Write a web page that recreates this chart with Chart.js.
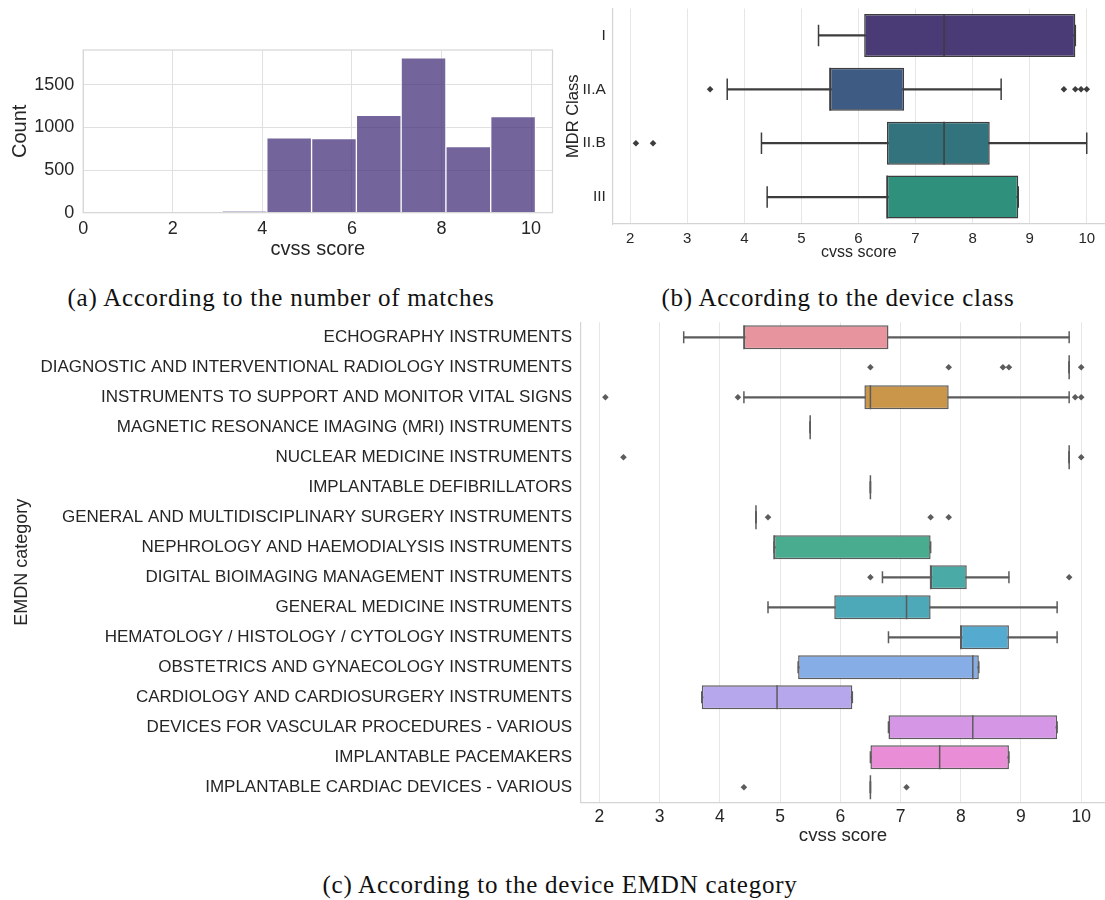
<!DOCTYPE html>
<html>
<head>
<meta charset="utf-8">
<script src="https://cdn.jsdelivr.net/npm/chart.js@4.4.1/dist/chart.umd.min.js"></script>
<style>
  html, body { margin: 0; padding: 0; background: #fff; overflow: hidden; }
  body { width: 1105px; height: 900px; position: relative; }
  canvas { position: absolute; }
  .cap {
    position: absolute;
    font-family: 'Liberation Serif', 'Times New Roman', serif;
    font-size: 25px;
    letter-spacing: 0.75px;
    color: #111;
    white-space: nowrap;
    line-height: 1;
    transform: translate(-50%, -50%);
  }
</style>
</head>
<body>
<canvas id="histChart" width="560" height="240" style="left:0;top:30px"></canvas>
<!-- the two box plots are 4px wider than the page: Chart.js keeps 4px free on the right -->
<canvas id="mdrChart" width="549" height="270" style="left:560px;top:0"></canvas>
<canvas id="emdnChart" width="1109" height="555" style="left:0;top:315px"></canvas>

<div class="cap" style="left:281px;top:297px">(a) According to the number of matches</div>
<div class="cap" style="left:838px;top:297px">(b) According to the device class</div>
<div class="cap" style="left:560px;top:884px">(c) According to the device EMDN category</div>

<script>
// ===== (a) histogram: bin centres (bins are 1 wide) and counts =====
const histBinCenters = [3.6, 4.6, 5.6, 6.6, 7.6, 8.6, 9.6];
const histCounts = [12, 878, 870, 1142, 1817, 774, 1128];
const histXTicks = [0, 2, 4, 6, 8, 10];
const histYTicks = [0, 500, 1000, 1500];

// ===== (b) MDR class boxplots =====
const mdrClasses = ["I", "II.A", "II.B", "III"];
const mdrLow    = [5.3, 3.7, 4.3, 4.4];
const mdrQ1     = [6.1, 5.5, 6.5, 6.5];
const mdrMedian = [7.5, 5.5, 7.5, 6.5];
const mdrQ3     = [9.8, 6.8, 8.3, 8.8];
const mdrHigh   = [9.8, 8.5, 10.0, 8.8];
const mdrOutliers = [[], [3.4, 9.6, 9.8, 9.9, 10.0], [2.1, 2.4], []];
const mdrColors = ["#4a3a76", "#3e5b83", "#33737e", "#2f917b"];

// ===== (c) EMDN category boxplots =====
const emdnCategories = [
  "ECHOGRAPHY INSTRUMENTS",
  "DIAGNOSTIC AND INTERVENTIONAL RADIOLOGY INSTRUMENTS",
  "INSTRUMENTS TO SUPPORT AND MONITOR VITAL SIGNS",
  "MAGNETIC RESONANCE IMAGING (MRI) INSTRUMENTS",
  "NUCLEAR MEDICINE INSTRUMENTS",
  "IMPLANTABLE DEFIBRILLATORS",
  "GENERAL AND MULTIDISCIPLINARY SURGERY INSTRUMENTS",
  "NEPHROLOGY AND HAEMODIALYSIS INSTRUMENTS",
  "DIGITAL BIOIMAGING MANAGEMENT INSTRUMENTS",
  "GENERAL MEDICINE INSTRUMENTS",
  "HEMATOLOGY / HISTOLOGY / CYTOLOGY INSTRUMENTS",
  "OBSTETRICS AND GYNAECOLOGY INSTRUMENTS",
  "CARDIOLOGY AND CARDIOSURGERY INSTRUMENTS",
  "DEVICES FOR VASCULAR PROCEDURES - VARIOUS",
  "IMPLANTABLE PACEMAKERS",
  "IMPLANTABLE CARDIAC DEVICES - VARIOUS",
];
const emdnLow    = [3.4, 9.8, 4.4, 5.5, 9.8, 6.5, 4.6, 4.9, 6.7, 4.8, 6.8, 5.3, 3.7, 6.8, 6.5, 6.5];
const emdnQ1     = [4.4, 9.8, 6.4, 5.5, 9.8, 6.5, 4.6, 4.9, 7.5, 5.9, 8.0, 5.3, 3.7, 6.8, 6.5, 6.5];
const emdnMedian = [4.4, 9.8, 6.5, 5.5, 9.8, 6.5, 4.6, 4.9, 7.5, 7.1, 8.0, 8.2, 4.95, 8.2, 7.65, 6.5];
const emdnQ3     = [6.8, 9.8, 7.8, 5.5, 9.8, 6.5, 4.6, 7.5, 8.1, 7.5, 8.8, 8.3, 6.2, 9.6, 8.8, 6.5];
const emdnHigh   = [9.8, 9.8, 9.8, 5.5, 9.8, 6.5, 4.6, 7.5, 8.8, 9.6, 9.6, 8.3, 6.2, 9.6, 8.8, 6.5];
const emdnOutliers = [
  [], [6.5, 7.8, 8.7, 8.8, 10.0], [2.1, 4.3, 9.9, 10.0], [], [2.4, 10.0], [],
  [4.8, 7.5, 7.8], [], [6.5, 9.8], [], [], [], [], [], [], [4.4, 7.1],
];
const emdnColors = [
  "#e8949f", "#e4977a", "#c9964a", "#a89f45", "#8fa645", "#62ab4d", "#4bad7d", "#4aac8e",
  "#4aaaa5", "#4da9b7", "#55aad0", "#86ade6", "#b6a6ec", "#d596e6", "#e98dd6", "#ea90b5",
];
const scoreTicks = [2, 3, 4, 5, 6, 7, 8, 9, 10];

// ===== common =====
const ink = "#262626";
Chart.defaults.font.family = "'Liberation Sans', Arial, sans-serif";
Chart.defaults.color = ink;

// light frame on all four sides (seaborn whitegrid spines)
const framePlugin = {
  id: "frame",
  afterDatasetsDraw(chart) {
    const { ctx, chartArea: a } = chart;
    ctx.save();
    ctx.strokeStyle = "#d6d6d6";
    ctx.lineWidth = 1.2;
    ctx.strokeRect(a.left, a.top, a.right - a.left, a.bottom - a.top);
    ctx.restore();
  },
};

function onlyTicks(list) {
  return (scale) => {
    scale.ticks = list.map((v) => ({ value: v }));
  };
}

// fixed axis size, and no extra room for half-labels at the ends
function fixSize(key, px) {
  return (s) => {
    s[key] = px;
    s.paddingTop = s.paddingBottom = s.paddingLeft = s.paddingRight = 0;
  };
}

const plain = (v) => String(v);

// ===== (a) =====
new Chart(document.getElementById("histChart"), {
  type: "bar",
  data: {
    datasets: [
      {
        data: histBinCenters.map((x, i) => ({ x, y: histCounts[i] })),
        backgroundColor: "rgba(68,48,122,0.75)",
        borderColor: "rgba(255,255,255,0.8)",
        borderWidth: 1,
        barPercentage: 1,
        categoryPercentage: 1,
      },
    ],
  },
  options: {
    responsive: false,
    animation: false,
    events: [],
    layout: { padding: { left: 4.6, top: 20, right: 7.5, bottom: 4.6 } },
    plugins: { legend: { display: false }, tooltip: { enabled: false } },
    scales: {
      x: {
        type: "linear",
        min: 0,
        max: 10.48,
        offset: false,
        grid: { color: "#e0e0e0", drawTicks: false, offset: false },
        border: { display: false },
        afterBuildTicks: onlyTicks(histXTicks),
        ticks: { padding: 5.8, font: { size: 18 }, callback: plain },
        title: { display: true, text: "cvss score", font: { size: 20 } },
        afterFit: fixSize("height", 52.7),
      },
      y: {
        min: 0,
        max: 1908,
        grid: { color: "#e0e0e0", drawTicks: false },
        border: { display: false },
        afterBuildTicks: onlyTicks(histYTicks),
        ticks: { padding: 9, font: { size: 18 }, callback: plain },
        title: { display: true, text: "Count", font: { size: 20 } },
        afterFit: fixSize("width", 78.6),
      },
    },
  },
  plugins: [framePlugin],
});

// ===== boxplot datasets built from the named arrays =====
function boxDatasets(cats, low, q1, med, q3, high, outliers, colors, line) {
  const halfBox = (ctx) => {
    const s = ctx.chart.scales.y;
    return (s.height / cats.length) * 0.4;
  };
  const caps = [];
  cats.forEach((c, i) => {
    caps.push({ x: low[i], y: c });
    caps.push({ x: high[i], y: c });
  });
  const outs = [];
  cats.forEach((c, i) => outliers[i].forEach((v) => outs.push({ x: v, y: c })));
  return [
    {
      // whiskers
      type: "bar",
      data: cats.map((c, i) => [low[i], high[i]]),
      backgroundColor: line,
      barThickness: 1.5,
      grouped: false,
      order: 4,
    },
    {
      // boxes (Q1..Q3)
      type: "bar",
      data: cats.map((c, i) => [q1[i], q3[i]]),
      backgroundColor: colors,
      borderColor: line,
      borderWidth: 1.5,
      borderSkipped: false,
      barPercentage: 0.8,
      categoryPercentage: 1,
      grouped: false,
      order: 3,
    },
    {
      // whisker caps
      type: "scatter",
      data: caps,
      pointStyle: "line",
      pointRotation: 90,
      pointRadius: (ctx) => halfBox(ctx) / 2,
      pointBorderColor: line,
      pointBorderWidth: 1.5,
      order: 2,
    },
    {
      // medians
      type: "scatter",
      data: cats.map((c, i) => ({ x: med[i], y: c })),
      pointStyle: "line",
      pointRotation: 90,
      pointRadius: halfBox,
      pointBorderColor: line,
      pointBorderWidth: 1.5,
      order: 2,
    },
    {
      // outliers
      type: "scatter",
      data: outs,
      pointStyle: "rectRot",
      pointRadius: 3.3,
      pointBackgroundColor: line,
      pointBorderWidth: 0,
      order: 1,
    },
  ];
}

function boxOptions(o) {
  return {
    responsive: false,
    animation: false,
    events: [],
    indexAxis: "y",
    layout: { padding: o.padding },
    plugins: { legend: { display: false }, tooltip: { enabled: false } },
    scales: {
      x: {
        type: "linear",
        min: 1.695,
        max: o.xMax,
        grid: { color: "#e6e6e6", drawTicks: false },
        border: { color: "#d4d4d4", width: 1.2 },
        afterBuildTicks: onlyTicks(scoreTicks),
        ticks: { padding: o.xPad, font: { size: o.tickSize } },
        title: { display: true, text: "cvss score", font: { size: o.xTitleSize } },
        afterFit: fixSize("height", o.xHeight),
      },
      y: {
        type: "category",
        offset: true,
        grid: { display: false, drawTicks: false, offset: true },
        border: { color: "#d4d4d4", width: 1.2 },
        ticks: { padding: o.yPad, autoSkip: false, font: { size: o.yTickSize } },
        title: { display: true, text: o.yTitle, font: { size: o.yTitleSize } },
        afterFit: fixSize("width", o.yWidth),
      },
    },
  };
}

// ===== (b) =====
new Chart(document.getElementById("mdrChart"), {
  type: "bar",
  data: {
    labels: mdrClasses,
    datasets: boxDatasets(mdrClasses, mdrLow, mdrQ1, mdrMedian, mdrQ3, mdrHigh,
      mdrOutliers, mdrColors, "#3d3d3d"),
  },
  options: boxOptions({
    padding: { left: 0, top: 8.5, right: 0, bottom: 4 },
    xMax: 10.32, xPad: 6, xHeight: 42, yWidth: 52.8, yPad: 7,
    tickSize: 15, yTickSize: 15.5, xTitleSize: 16, yTitleSize: 16.5, yTitle: "MDR Class",
  }),
});

// ===== (c) =====
new Chart(document.getElementById("emdnChart"), {
  type: "bar",
  data: {
    labels: emdnCategories,
    datasets: boxDatasets(emdnCategories, emdnLow, emdnQ1, emdnMedian, emdnQ3, emdnHigh,
      emdnOutliers, emdnColors, "#5c5c5c"),
  },
  options: boxOptions({
    padding: { left: 6.8, top: 7.3, right: 0, bottom: 18.7 },
    xMax: 10.395, xPad: 4.5, xHeight: 49, yWidth: 574.2, yPad: 9,
    tickSize: 17.5, yTickSize: 17, xTitleSize: 18.7, yTitleSize: 18, yTitle: "EMDN category",
  }),
});
</script>
</body>
</html>
